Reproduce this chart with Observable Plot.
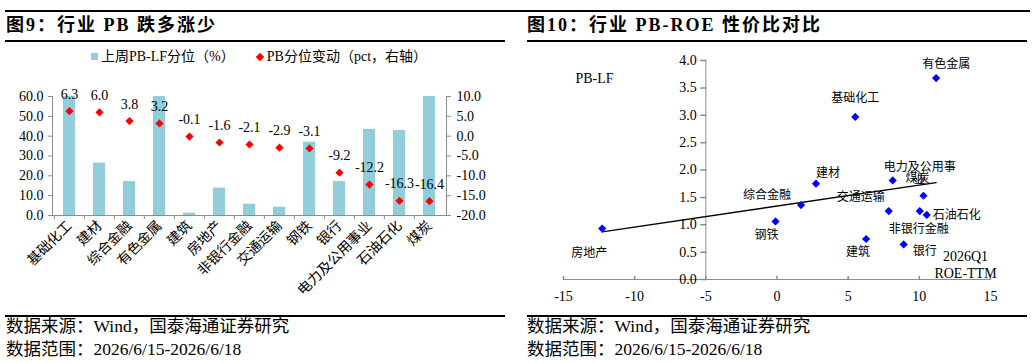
<!DOCTYPE html>
<html>
<head>
<meta charset="utf-8">
<script src="https://cdn.jsdelivr.net/npm/d3@7"></script>
<script src="https://cdn.jsdelivr.net/npm/@observablehq/plot@0.6"></script>
<style>
  body { margin: 0; background: #fff; }
  #page { position: relative; width: 1034px; height: 363px; overflow: hidden; background: #fff;
          font-family: "Liberation Serif", "Noto Sans CJK SC", serif; color: #000; }
  .abs { position: absolute; white-space: nowrap; line-height: 1; }
  .rule { position: absolute; background: #000; }
  .title { font-size: 18px; font-weight: bold; letter-spacing: 2px; }
  .foot { font-size: 17.5px; }
  .legend { font-size: 14px; }
  .chart { position: absolute; }
  .chart svg { display: block; overflow: visible; }
</style>
</head>
<body>
<div id="page">
  <!-- header rules and titles -->
  <div class="rule" style="left:5px;top:10px;width:1025px;height:2px"></div>
  <div class="abs title" style="left:6px;top:16px">图9：行业 PB 跌多涨少</div>
  <div class="abs title" style="left:527px;top:16px">图10：行业 PB-ROE 性价比对比</div>
  <div class="rule" style="left:5px;top:40px;width:500px;height:2px"></div>
  <div class="rule" style="left:527px;top:40px;width:500px;height:2px"></div>

  <!-- legend of the left chart -->
  <div class="abs legend" id="legend" style="left:91px;top:50px;"></div>

  <div class="chart" id="left" style="left:0;top:80px"></div>
  <div class="chart" id="right" style="left:520px;top:50px"></div>

  <!-- footer rules and notes -->
  <div class="rule" style="left:5px;top:315px;width:500px;height:2px"></div>
  <div class="rule" style="left:527px;top:315px;width:500px;height:2px"></div>
  <div class="abs foot" style="left:6px;top:318px">数据来源：Wind，国泰海通证券研究</div>
  <div class="abs foot" style="left:6px;top:341px">数据范围：2026/6/15-2026/6/18</div>
  <div class="abs foot" style="left:527px;top:318px">数据来源：Wind，国泰海通证券研究</div>
  <div class="abs foot" style="left:527px;top:341px">数据范围：2026/6/15-2026/6/18</div>
</div>

<script>
// ---------- Figure 9: PB percentile by industry ----------
const industries = ["基础化工", "建材", "综合金融", "有色金属", "建筑", "房地产", "非银行金融",
                    "交通运输", "钢铁", "银行", "电力及公用事业", "石油石化", "煤炭"];
// last week's PB-LF percentile (%), left axis
const pbPercentile = [60.0, 26.4, 17.1, 60.0, 1.2, 13.8, 5.7, 4.2, 37.0, 17.1, 43.4, 42.9, 60.0];
// change in PB percentile (pct), right axis
const pbChange = [6.3, 6.0, 3.8, 3.2, -0.1, -1.6, -2.1, -2.9, -3.1, -9.2, -12.2, -16.3, -16.4];
const leftTicks = [0, 10, 20, 30, 40, 50, 60];
const rightTicks = [-20, -15, -10, -5, 0, 5, 10];

// ---------- Figure 10: PB vs ROE scatter ----------
const sectors = ["有色金属", "基础化工", "建材", "电力及公用事业", "煤炭", "综合金融", "交通运输",
                 "非银行金融", "石油石化", "钢铁", "建筑", "银行", "房地产"];
const roeTTM = [11.18, 5.5, 2.74, 8.13, 10.29, 1.69, 7.85, 10.03, 10.52, -0.1, 6.26, 8.9, -12.28];
const pbLF = [3.68, 2.97, 1.75, 1.81, 1.53, 1.36, 1.25, 1.25, 1.18, 1.06, 0.74, 0.64, 0.93];
const xTicks = [-15, -10, -5, 0, 5, 10, 15];
const yTicks = [0, 0.5, 1, 1.5, 2, 2.5, 3, 3.5, 4];

// ---------- shared styling ----------
const FONT = '"Liberation Serif", "Noto Sans CJK SC", serif';
const BAR = "#92CDDC";
const AXIS = "#8c8c8c";
const diamond = d3.symbolDiamond2 || "diamond";
const tickShape = { draw(ctx, l) { ctx.moveTo(0, 0); ctx.lineTo(0, -l); } };

// legend
document.getElementById("legend").innerHTML =
  `<span style="display:inline-block;width:7px;height:7px;background:${BAR};margin-right:3px;vertical-align:1px"></span>上周PB-LF分位（%）` +
  `<span style="display:inline-block;width:6px;height:6px;background:#f00;transform:rotate(45deg);margin:0 4px 0 22px;vertical-align:1px"></span>PB分位变动（pct，右轴）`;

// left chart
{
  const W = 520, H = 230, mL = 52, mR = 74, mT = 16, mB = 95;
  const step = (W - mL - mR) / industries.length;
  const [lMin, lMax] = [0, 60], [rMin, rMax] = [-20, 10];
  const toLeft = v => (v - rMin) * (lMax - lMin) / (rMax - rMin) + lMin;
  const toRight = v => (v - lMin) * (rMax - rMin) / (lMax - lMin) + rMin;
  const rows = industries.map((name, i) => ({ name, pct: pbPercentile[i], chg: pbChange[i] }));

  const chart = Plot.plot({
    width: W, height: H,
    marginLeft: mL, marginRight: mR, marginTop: mT, marginBottom: mB,
    style: { fontFamily: FONT, fontSize: "14px", color: "#000", background: "transparent" },
    x: { type: "band", domain: industries, paddingInner: 0.6, paddingOuter: 0.3 },
    y: { domain: [lMin, lMax] },
    marks: [
      Plot.barY(rows, { x: "name", y: "pct", fill: BAR }),
      Plot.ruleY([0], { stroke: AXIS }),
      Plot.frame({ anchor: "left", stroke: AXIS }),
      Plot.frame({ anchor: "right", stroke: AXIS }),
      Plot.axisY({ anchor: "left", ticks: leftTicks, tickFormat: d => d.toFixed(1),
                   tickSize: 4, tickPadding: 5, stroke: AXIS, fill: "#000", label: null, fontSize: 14 }),
      Plot.axisY({ anchor: "right", ticks: rightTicks.map(toLeft), tickFormat: d => toRight(d).toFixed(1),
                   tickSize: 4, tickPadding: 6, stroke: AXIS, fill: "#000", label: null, fontSize: 14 }),
      Plot.axisX({ tickSize: 0, tickRotate: -45, tickPadding: 8, label: null, fontSize: 14, fill: "#000" }),
      Plot.axisX({ tickSize: 4, fill: "none", dx: -step / 2, stroke: AXIS, label: null }),
      Plot.dot(rows, { x: "name", y: d => toLeft(d.chg), symbol: diamond, r: 3.7, fill: "#f00", stroke: null }),
      Plot.text(rows, { x: "name", y: d => toLeft(d.chg), text: d => d.chg.toFixed(1), dy: -17, fontSize: 14, fill: "#000" })
    ]
  });
  document.getElementById("left").append(chart);
}

// right chart
{
  const W = 514, H = 260;
  const pts = sectors.map((name, i) => ({ name, roe: roeTTM[i], pb: pbLF[i] }));
  // label placement around each point: [dx, dy, textAnchor, wrapped text]
  const labelPlace = {
    "有色金属": [10, -14, "middle"], "基础化工": [0, -19, "middle"], "建材": [12, -11, "middle"],
    "电力及公用事业": [27, -7, "middle", "电力及公用事\n业"], "煤炭": [-6, -18, "middle"],
    "综合金融": [-34, -10, "middle"], "交通运输": [-28, -14, "middle"], "非银行金融": [-1, 18, "middle"],
    "石油石化": [6, 0, "start"], "钢铁": [-9, 13, "middle"], "建筑": [-8, 13, "middle"],
    "银行": [9, 6, "start"], "房地产": [-13, 24, "middle"]
  };
  const labels = pts.map(p => {
    const [dx, dy, textAnchor, wrapped] = labelPlace[p.name];
    return Plot.text([p], { x: "roe", y: "pb", text: d => wrapped || d.name, dx, dy, textAnchor,
                            lineHeight: 1.1, fontSize: 12, fill: "#000" });
  });

  const chart = Plot.plot({
    width: W, height: H,
    marginLeft: 43, marginRight: 44, marginTop: 10, marginBottom: 31,
    style: { fontFamily: FONT, fontSize: "14px", color: "#000", background: "transparent" },
    x: { domain: [-15, 15], axis: null },
    y: { domain: [0, 4], axis: null },
    marks: [
      Plot.ruleY([0], { stroke: AXIS }),
      Plot.ruleX([-5], { stroke: AXIS }),
      Plot.vector(xTicks, { x: d => d, y: 0, length: 3, anchor: "start", shape: tickShape, stroke: AXIS }),
      Plot.vector(yTicks, { x: -5, y: d => d, length: 5, rotate: -90, anchor: "start", shape: tickShape, stroke: AXIS }),
      Plot.text(xTicks, { x: d => d, y: 0, text: d => String(d), dy: 17, fontSize: 14, fill: "#000" }),
      Plot.text(yTicks, { x: -5, y: d => d, text: d => d.toFixed(1), textAnchor: "end", dx: -9, fontSize: 14, fill: "#000" }),
      Plot.linearRegressionY(pts, { x: "roe", y: "pb", stroke: "#000", strokeWidth: 1.3, ci: 0 }),
      Plot.dot(pts, { x: "roe", y: "pb", symbol: diamond, r: 3.7, fill: "#0000ff", stroke: null }),
      ...labels,
      Plot.text(["PB-LF"], { frameAnchor: "top-left", text: d => d, dx: 12, dy: 13, textAnchor: "start", fontSize: 14, fill: "#000" }),
      Plot.text(["2026Q1\nROE-TTM"], { frameAnchor: "bottom-right", text: d => d, dx: -25, dy: -2,
                                        textAnchor: "middle", lineAnchor: "bottom", lineHeight: 1.15, fontSize: 14, fill: "#000" })
    ]
  });
  document.getElementById("right").append(chart);
}
</script>
</body>
</html>
